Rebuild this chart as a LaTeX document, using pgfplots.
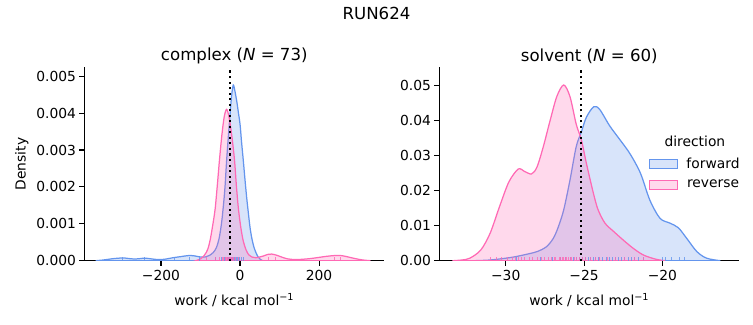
\documentclass[border=0pt]{standalone}
\usepackage{pgfplots}
\pgfplotsset{compat=1.18}
\usepackage{fontspec}
\setmainfont{DejaVu Sans}
\definecolor{fwd}{HTML}{6495ED}
\definecolor{rev}{HTML}{FF69B4}
\pgfplotsset{
  mystyle/.style={
    scale only axis, width=216bp, height=139.25bp,
    axis x line*=bottom, axis y line*=left,
    axis line style={line width=0.8pt, -},
    tick style={black, line width=0.8pt},
    major tick length=3.5pt,
    tick align=outside,
    tick label style={font=\fontsize{10}{12}\selectfont},
    yticklabel style={xshift=1bp},
    label style={font=\fontsize{10}{12}\selectfont},
    every axis title/.style={font=\fontsize{12}{14}\selectfont, at={(0.5,1)}, anchor=center, yshift=8bp},
    every axis x label/.style={at={(axis description cs:0.5,-0.203)}, anchor=center},
    ymin=0, scaled y ticks=false, scaled x ticks=false,
    legend image code/.code={\draw[#1, line width=0.8pt] (0bp,-3.3bp) rectangle (20bp,3.3bp);},
  },
  fwdline/.style={fwd, line width=0.9pt, fill=fwd, fill opacity=0.25, draw opacity=1, smooth, tension=0.5, mark=none},
  revline/.style={rev, line width=0.9pt, fill=rev, fill opacity=0.25, draw opacity=1, smooth, tension=0.5, mark=none},
  rugf/.style={ycomb, fwd, line width=0.6pt, opacity=0.8, mark=none, forget plot},
  rugr/.style={ycomb, rev, line width=0.6pt, opacity=0.8, mark=none, forget plot},
}
\begin{document}
\begin{tikzpicture}
% ---------------- complex ----------------
\begin{axis}[mystyle, at={(60.7bp,46.3bp)}, anchor=south west,
  xmin=-394, xmax=365, ymax=0.00524,
  xtick={-200,0,200}, xticklabels={−200,0,200},
  ytick={0,0.001,0.002,0.003,0.004,0.005},
  yticklabels={0.000,0.001,0.002,0.003,0.004,0.005},
  title={complex ({\itshape N} = 73)},
  xlabel={work / kcal mol\textsuperscript{−1}},
  ylabel={Density},
  every axis y label/.style={at={(axis description cs:-0.2087,0.5)}, anchor=center, rotate=90},
]
\addplot[fwdline, forget plot] coordinates {
(-365,0) (-345,0.00002) (-325,0.00005) (-305,0.00007) (-290,0.00007) (-275,0.00005)
(-258,0.00005) (-242,0.00007) (-225,0.00005) (-208,0.00003) (-190,0.00004) (-170,0.00008)
(-150,0.00011) (-130,0.00014) (-115,0.00013) (-100,0.0001) (-88,0.0001) (-78,0.00014)
(-68,0.00022) (-60,0.00035) (-53,0.0006) (-47,0.001) (-42,0.0015) (-38,0.002) (-34,0.0027)
(-30,0.0033) (-25,0.004) (-21,0.0045) (-17,0.00476) (-13,0.0046) (-8,0.0043) (-4,0.004)
(0,0.0037) (4,0.0032) (8.4,0.0027) (12.5,0.0022) (16.9,0.0017) (21,0.0013) (25.3,0.0009)
(30,0.0006) (35.4,0.00036) (41,0.0002) (46,0.0001) (52,0.00003) (58,0)
} \closedcycle;
\addplot[revline, forget plot] coordinates {
(-112,0) (-100,0.00005) (-90,0.00015) (-82,0.0003) (-76,0.00054) (-70,0.0009) (-63,0.0014)
(-57,0.0021) (-52,0.00273) (-46,0.0034) (-40,0.0039) (-34,0.0041) (-28,0.0039) (-21,0.0034)
(-14,0.00273) (-9,0.002) (-4,0.0014) (2,0.0009) (8,0.00054) (15,0.0003) (22,0.00016)
(30,0.0001) (40,0.00008) (50,0.0001) (60,0.00013) (70,0.00017) (80,0.00018) (92,0.00015)
(105,0.0001) (120,0.00005) (140,0.00003) (160,0.00004) (180,0.00006) (200,0.00009)
(220,0.00012) (240,0.00014) (255,0.00014) (270,0.00011) (290,0.00006) (310,0.00002) (330,0)
} \closedcycle;
\addplot[rugf] coordinates {
(-298,0.00011) (-243,0.00011) (-167,0.00011) (-127,0.00011) (-104,0.00011) (-62,0.00011)
(-48,0.00011) (-40,0.00011) (-36,0.00011) (-33,0.00011) (-31,0.00011) (-29,0.00011)
(-27,0.00011) (-26,0.00011) (-25,0.00011) (-24,0.00011) (-23,0.00011) (-22,0.00011)
(-21,0.00011) (-20,0.00011) (-19,0.00011) (-18,0.00011) (-17,0.00011) (-16,0.00011)
(-15,0.00011) (-14,0.00011) (-13,0.00011) (-12,0.00011) (-11,0.00011) (-10,0.00011)
(-9,0.00011) (-8,0.00011) (-6,0.00011) (-4,0.00011) (-1,0.00011) (3,0.00011) (8,0.00011)
};
\addplot[rugr] coordinates {
(-85,0.00011) (-62,0.00011) (-52,0.00011) (-45,0.00011) (-41,0.00011) (-38,0.00011)
(-36,0.00011) (-35,0.00011) (-34,0.00011) (-33,0.00011) (-32,0.00011) (-31,0.00011)
(-30,0.00011) (-29,0.00011) (-28,0.00011) (-27,0.00011) (-26,0.00011) (-25,0.00011)
(-24,0.00011) (-22,0.00011) (-20,0.00011) (-17,0.00011) (-12,0.00011) (-5,0.00011)
(72,0.00011) (89,0.00011) (240,0.00011) (253,0.00011)
};
\addplot[black, line width=1.5pt, dash pattern=on 1.5pt off 2.5pt, forget plot] coordinates {(-25.2,0) (-25.2,0.00524)};
\end{axis}
% ---------------- solvent ----------------
\begin{axis}[mystyle, at={(316.3bp,46.3bp)}, anchor=south west,
  xmin=-34.24, xmax=-15.09, ymax=0.05526,
  xtick={-30,-25,-20}, xticklabels={−30,−25,−20},
  ytick={0,0.01,0.02,0.03,0.04,0.05},
  yticklabels={0.00,0.01,0.02,0.03,0.04,0.05},
  title={solvent ({\itshape N} = 60)},
  xlabel={work / kcal mol\textsuperscript{−1}},
  legend style={at={(axis description cs:0.699,0.547)}, anchor=north west, draw=none, fill=none,
    font=\fontsize{10}{12}\selectfont, row sep=3bp, inner sep=0pt,
    /tikz/every odd column/.append style={column sep=4bp}},
]
\addplot[fwdline] coordinates {
(-32.1,0) (-31,0.0002) (-29.7,0.0009) (-28.9,0.0016) (-28,0.0026) (-27.4,0.004) (-26.96,0.0064)
(-26.64,0.0097) (-26.3,0.0145) (-25.9,0.023) (-25.5,0.0326) (-25.17,0.0368) (-24.85,0.041)
(-24.38,0.044) (-24.0,0.0432) (-23.36,0.0385) (-22.7,0.0345) (-22.06,0.0305) (-21.4,0.025)
(-20.8,0.0173) (-20.15,0.0121) (-19.5,0.0107) (-18.98,0.0094) (-18.45,0.0064) (-17.8,0.0026)
(-17.17,0.0007) (-16.3,0)
} \closedcycle;
\addlegendentry{forward}
\addplot[revline] coordinates {
(-33.4,0) (-32.8,0.0002) (-32.3,0.0007) (-31.6,0.003) (-31.0,0.0078) (-30.4,0.0154)
(-29.8,0.0225) (-29.2,0.0262) (-28.8,0.0255) (-28.35,0.0248) (-28.0,0.0268) (-27.6,0.0326)
(-27.17,0.04) (-26.74,0.0469) (-26.3,0.0502) (-25.9,0.0469) (-25.5,0.039) (-25.17,0.0345)
(-24.85,0.0278) (-24.4,0.0192) (-24.1,0.0145) (-23.66,0.0107) (-23.1,0.0083) (-22.5,0.0059)
(-21.85,0.0035) (-21.2,0.0016) (-20.4,0.0004) (-19.8,0)
} \closedcycle;
\addlegendentry{reverse}
\addplot[rugf] coordinates {
(-29.3,0.00114) (-27.8,0.00114) (-27.0,0.00114) (-26.5,0.00114) (-26.2,0.00114) (-25.9,0.00114)
(-25.7,0.00114) (-25.5,0.00114) (-25.3,0.00114) (-25.1,0.00114) (-24.9,0.00114) (-24.7,0.00114)
(-24.6,0.00114) (-24.4,0.00114) (-24.3,0.00114) (-24.1,0.00114) (-24.0,0.00114) (-23.8,0.00114)
(-23.6,0.00114) (-23.4,0.00114) (-23.2,0.00114) (-23.0,0.00114) (-22.8,0.00114) (-22.6,0.00114)
(-22.4,0.00114) (-22.2,0.00114) (-22.0,0.00114) (-21.8,0.00114) (-21.5,0.00114) (-21.2,0.00114)
(-20.0,0.00114) (-19.8,0.00114) (-19.4,0.00114) (-18.9,0.00114) (-18.6,0.00114)
};
\addplot[rugr] coordinates {
(-31.0,0.00114) (-30.6,0.00114) (-30.3,0.00114) (-29.9,0.00114) (-29.6,0.00114) (-29.4,0.00114)
(-29.2,0.00114) (-29.0,0.00114) (-28.8,0.00114) (-28.5,0.00114) (-28.3,0.00114) (-28.0,0.00114)
(-27.7,0.00114) (-27.5,0.00114) (-27.3,0.00114) (-27.1,0.00114) (-26.9,0.00114) (-26.8,0.00114)
(-26.6,0.00114) (-26.5,0.00114) (-26.4,0.00114) (-26.3,0.00114) (-26.2,0.00114) (-26.1,0.00114)
(-26.0,0.00114) (-25.9,0.00114) (-25.8,0.00114) (-25.6,0.00114) (-25.5,0.00114) (-25.3,0.00114)
(-25.1,0.00114) (-24.9,0.00114) (-24.6,0.00114) (-24.3,0.00114) (-24.0,0.00114) (-23.5,0.00114)
(-23.0,0.00114) (-22.4,0.00114) (-21.8,0.00114) (-21.2,0.00114)
};
\addplot[black, line width=1.5pt, dash pattern=on 1.5pt off 2.5pt, forget plot] coordinates {(-25.2,0) (-25.2,0.05526)};
\node[font=\fontsize{10}{12}\selectfont] at (axis description cs:0.852,0.615) {direction};
\end{axis}
\node[font=\fontsize{12}{14}\selectfont] at (271.1bp,224.6bp) {RUN624};
\pgfresetboundingbox
\path[use as bounding box] (0bp,0bp) rectangle (542.16bp,234bp);
\end{tikzpicture}
\end{document}
